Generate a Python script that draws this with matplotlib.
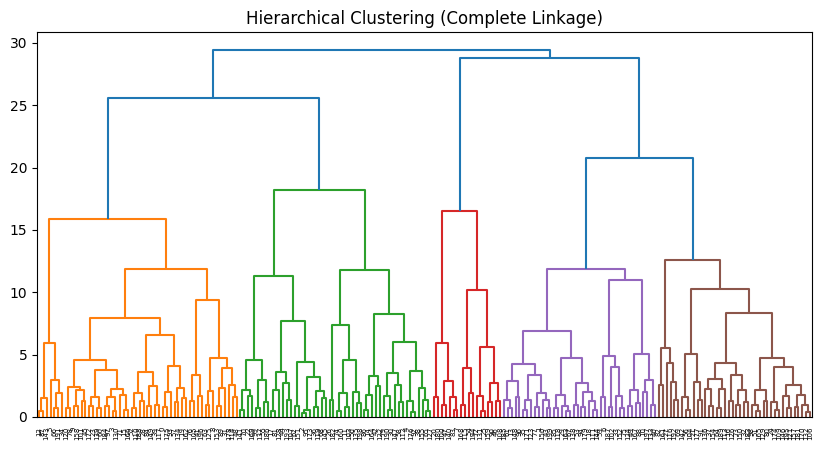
import matplotlib
matplotlib.use("Agg")
import matplotlib.pyplot as plt
from matplotlib.collections import LineCollection

# heights of the upper (blue) merges
root_height = 29.4
left_height = 25.6
right_height = 28.8
purple_brown_height = 20.8

# every node is [height, left, right], a leaf is 0
orange_tree = [15.9,
    [5.97, [1.55, [0.5, 0, 0], 0], [3.0, 0, [1.9, [0.7, 0, 0], 0]]],
    [11.9,
        [7.9,
            [4.6,
                [2.4, [0.7, 0, 0], [2.2, [0.9, 0, 0], [1.25, 0, 0]]],
                [3.78, [1.63, [0.9, 0, 0], [0.7, 0, 0]],
                       [2.25, [1.6, [0.9, 0, 0], [0.5, 0, 0]], [1.8, 0, [0.6, 0, 0]]]]],
            [6.6,
                [3.64, [1.9, [0.7, 0, 0], [1.3, 0, 0]], [2.45, [0.9, 0, 0], [1.0, 0, 0]]],
                [4.12, [2.0, [0.8, 0, 0], 0], [2.3, [1.2, 0, 0], [1.5, 0, 0]]]]],
        [9.35,
            [3.35, [1.25, 0, 0], [1.7, 0, 0]],
            [4.7, [2.09, [1.0, 0, 0], 0],
                  [3.94, [2.3, [0.9, 0, 0], 0], [2.6, 0, [1.6, 0, 0]]]]]]]

green_tree = [18.2,
    [11.3,
        [4.58, [2.2, [0.6, 0, 0], [1.7, 0, 0]], [2.97, [0.7, 0, 0], [1.23, 0, 0]]],
        [7.66, [3.64, [2.2, [0.5, 0, 0], 0], [2.7, 0, [1.4, 0, 0]]],
               [4.45, [0.9, 0, 0],
                      [3.24, [0.6, [0.3, 0, 0], 0], [2.1, [0.8, 0, 0], [1.5, 0, 0]]]]]],
    [11.75,
        [7.34, [1.4, 0, 0],
               [4.58, [1.9, [0.5, 0, 0], [0.8, 0, 0]], [2.0, 0, [1.1, 0, 0]]]],
        [8.27, [3.32, [1.75, [0.6, 0, 0], 0], [2.5, 0, 0]],
               [6.05, [3.56, [1.7, 0, [0.6, 0, 0]], [2.6, 0, [1.2, 0, 0]]],
                      [3.72, [1.3, 0, [0.4, 0, 0]], [2.36, 0, [1.4, 0, [0.5, 0, 0]]]]]]]]

red_tree = [16.5,
    [5.97, [1.63, 0, 0], [2.89, [1.0, 0, 0], [1.63, 0, [0.6, 0, 0]]]],
    [10.15, [3.96, [1.0, 0, 0], [1.9, 0, 0]],
            [5.6, [1.7, 0, [0.5, 0, 0]], [2.7, [1.2, 0, 0], [1.3, 0, 0]]]]]

purple_tree = [11.9,
    [6.93,
        [4.28, [2.92, [1.4, 0, [0.7, 0, 0]], [1.63, 0, 0]],
               [3.4, [1.4, [0.6, 0, 0], 0], [1.96, [0.8, 0, 0], [1.4, 0, [0.7, 0, 0]]]]],
        [4.77, [1.8, [0.7, 0, 0], [0.9, 0, [0.5, 0, 0]]],
               [2.7, [1.0, 0, 0], [2.0, [0.8, 0, 0], [1.3, 0, [0.6, 0, 0]]]]]],
    [11.0,
        [4.9, [1.63, 0, 0], [4.04, [0.8, 0, 0], [1.7, 0, [0.7, 0, 0]]]],
        [5.06, [2.17, [0.9, 0, 0], [1.1, 0, 0]], [2.97, [2.0, 0, 0], [1.0, 0, 0]]]]]

brown_tree = [12.6,
    [5.57, [2.57, 0, 0], [4.31, 0, [2.81, 0, [1.4, 0, 0]]]],
    [10.28,
        [5.06, [1.63, 0, [0.6, 0, 0]], [2.81, 0, [1.4, 0, 0]]],
        [8.33,
            [4.36, [3.08, [2.25, 0, [0.9, 0, 0]], [2.25, [0.7, 0, 0], 0]],
                   [3.4, [1.3, 0, 0], [2.17, [1.0, 0, 0], [1.2, 0, 0]]]],
            [4.77, [2.2, [1.0, 0, [0.5, 0, 0]], [1.3, 0, 0]],
                   [4.04, [1.2, 0, [0.6, 0, 0]],
                          [2.57, [1.7, 0, [0.7, 0, 0]],
                                 [1.8, [0.8, 0, 0], [1.0, 0, [0.4, 0, 0]]]]]]]]]

cluster_colors = ["C1", "C2", "C3", "C4", "C5"]
above_color = "C0"

# leaf labels (sample indices, too small to read in the original)
leaf_labels = [
    12, 87, 143, 5, 66, 191, 34, 120, 78, 9, 158, 101, 45, 172, 23, 139, 60, 184, 97, 3,
    130, 71, 15, 166, 52, 110, 188, 28, 84, 149, 39, 117, 0, 175, 93, 57, 134, 19, 162, 76,
    105, 41, 196, 63, 125, 8, 153, 89, 31, 178, 114, 48, 141, 70, 22, 169, 99, 137, 55, 186,
    17, 81, 128, 44, 193, 107, 62, 151, 2, 95, 173, 36, 119, 68, 145, 26, 182, 74, 160, 11,
    103, 50, 135, 198, 86, 14, 164, 42, 122, 79, 190, 30, 147, 58, 112, 4, 176, 92, 38, 155,
    65, 127, 20, 180, 100, 47, 140, 83, 7, 168, 115, 54, 194, 72, 131, 25, 159, 90, 46, 108,
    185, 61, 13, 148, 96, 35, 171, 123, 77, 1, 156, 43, 199, 85, 118, 29, 163, 67, 138, 53,
    94, 179, 18, 111, 144, 59, 6, 187, 102, 33, 152, 75, 124, 49, 167, 88, 10, 197, 133, 40,
    82, 161, 27, 116, 192, 69, 142, 56, 104, 21, 177, 91, 136, 37, 154, 64, 189, 113, 16, 126,
    73, 150, 32, 183, 98, 51, 165, 129, 80, 24, 174, 109, 146, 195, 121, 157, 181, 170, 132, 106,
]

full_tree = [root_height,
             [left_height, orange_tree, green_tree],
             [right_height, red_tree, [purple_brown_height, purple_tree, brown_tree]]]
color_of = {id(t): c for t, c in zip(
    [orange_tree, green_tree, red_tree, purple_tree, brown_tree], cluster_colors)}

segments = []
colors = []
leaf_x = []


def layout(node, color):
    # leaves sit at 5, 15, 25, ... like scipy's dendrogram
    if not isinstance(node, list):
        x = 5 + 10 * len(leaf_x)
        leaf_x.append(x)
        return x, 0.0
    color = color_of.get(id(node), color)
    h, left, right = node
    xl, hl = layout(left, color)
    xr, hr = layout(right, color)
    segments.append([(xl, hl), (xl, h), (xr, h), (xr, hr)])
    colors.append(color)
    return (xl + xr) / 2, h


layout(full_tree, above_color)
n = len(leaf_x)

fig = plt.figure(figsize=(8.24, 4.5), dpi=100)
ax = fig.add_axes([37 / 824, 33 / 450, 775 / 824, 385 / 450])
ax.add_collection(LineCollection(segments, colors=colors, linewidths=1.5))
ax.set_xlim(0, 10 * n)
ax.set_ylim(0, root_height * 1.05)
ax.set_xticks(leaf_x)
ax.set_xticklabels([str(leaf_labels[i % len(leaf_labels)]) for i in range(n)],
                   rotation=90, fontsize=5)
# hide the tick marks, they would cover the links
for line in ax.get_xticklines():
    line.set_visible(False)
ax.set_title("Hierarchical Clustering (Complete Linkage)")
fig.savefig("out.png", dpi=100)
